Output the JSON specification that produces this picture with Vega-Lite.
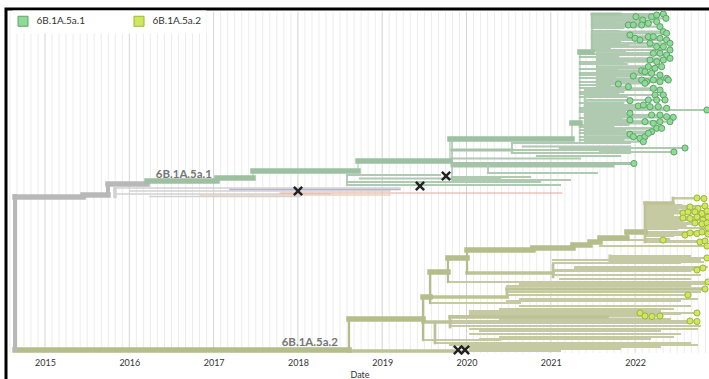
{
  "$schema": "https://vega.github.io/schema/vega-lite/v6.json",
  "width": 707,
  "height": 374,
  "autosize": {"type": "none"},
  "padding": {"left": 6, "top": 9, "right": -4, "bottom": -4},
  "config": {"view": {"stroke": "#000000", "strokeWidth": 3}, "font": "Lato"},
  "resolve": {"axis": {"x": "independent", "y": "independent"}},
  "datasets": {
    "months": [
      {"m":2014.583},{"m":2014.667},{"m":2014.75},{"m":2014.833},{"m":2014.917},
      {"m":2015.083},{"m":2015.167},{"m":2015.25},{"m":2015.333},{"m":2015.417},{"m":2015.5},{"m":2015.583},{"m":2015.667},{"m":2015.75},{"m":2015.833},{"m":2015.917},
      {"m":2016.083},{"m":2016.167},{"m":2016.25},{"m":2016.333},{"m":2016.417},{"m":2016.5},{"m":2016.583},{"m":2016.667},{"m":2016.75},{"m":2016.833},{"m":2016.917},
      {"m":2017.083},{"m":2017.167},{"m":2017.25},{"m":2017.333},{"m":2017.417},{"m":2017.5},{"m":2017.583},{"m":2017.667},{"m":2017.75},{"m":2017.833},{"m":2017.917},
      {"m":2018.083},{"m":2018.167},{"m":2018.25},{"m":2018.333},{"m":2018.417},{"m":2018.5},{"m":2018.583},{"m":2018.667},{"m":2018.75},{"m":2018.833},{"m":2018.917},
      {"m":2019.083},{"m":2019.167},{"m":2019.25},{"m":2019.333},{"m":2019.417},{"m":2019.5},{"m":2019.583},{"m":2019.667},{"m":2019.75},{"m":2019.833},{"m":2019.917},
      {"m":2020.083},{"m":2020.167},{"m":2020.25},{"m":2020.333},{"m":2020.417},{"m":2020.5},{"m":2020.583},{"m":2020.667},{"m":2020.75},{"m":2020.833},{"m":2020.917},
      {"m":2021.083},{"m":2021.167},{"m":2021.25},{"m":2021.333},{"m":2021.417},{"m":2021.5},{"m":2021.583},{"m":2021.667},{"m":2021.75},{"m":2021.833},{"m":2021.917},
      {"m":2022.083},{"m":2022.167},{"m":2022.25},{"m":2022.333},{"m":2022.417},{"m":2022.5},{"m":2022.583},{"m":2022.667},{"m":2022.75},{"m":2022.833}
    ],
    "years": [{"yr":2015},{"yr":2016},{"yr":2017},{"yr":2018},{"yr":2019},{"yr":2020},{"yr":2021},{"yr":2022}],
    "h": [
      {"a":2015.830,"b":2019.211,"y":188,"g":"O3"},
      {"a":2016.008,"b":2019.092,"y":191,"g":"O3"},
      {"a":2015.830,"b":2018.381,"y":194,"g":"O3"},
      {"a":2016.245,"b":2018.025,"y":196.5,"g":"O3"},
      {"a":2017.194,"b":2019.211,"y":189.5,"g":"O2"},
      {"a":2016.838,"b":2019.092,"y":195,"g":"O4"},
      {"a":2017.787,"b":2021.132,"y":193,"g":"O1"},

      {"a":2018.582,"b":2019.685,"y":175,"g":"At"},
      {"a":2018.736,"b":2020.397,"y":178.5,"g":"At"},
      {"a":2018.582,"b":2020.872,"y":182,"g":"At"},
      {"a":2018.582,"b":2021.109,"y":185,"g":"At"},
      {"a":2020.539,"b":2021.939,"y":143,"g":"At"},
      {"a":2020.670,"b":2021.939,"y":146.5,"g":"At"},
      {"a":2020.539,"b":2021.939,"y":150,"g":"At"},
      {"a":2020.539,"b":2021.939,"y":153,"g":"At"},
      {"a":2020.836,"b":2021.820,"y":156,"g":"At"},
      {"a":2019.828,"b":2021.346,"y":158.5,"g":"At"},
      {"a":2020.255,"b":2021.548,"y":173,"g":"At"},
      {"a":2019.828,"b":2020.753,"y":177,"g":"At"},
      {"a":2019.840,"b":2021.227,"y":180,"g":"At"},
      {"a":2021.109,"b":2022.592,"y":148,"g":"At","t":1,"c":"6B.1A.5a.1"},
      {"a":2021.583,"b":2022.461,"y":152,"g":"At","t":1,"c":"6B.1A.5a.1"},
      {"a":2021.346,"b":2022.852,"y":110,"g":"At","t":1,"c":"6B.1A.5a.1"},

      {"a":2021.488,"b":2021.82,"y":16,"g":"At"},
      {"a":2021.488,"b":2021.90,"y":19,"g":"At"},
      {"a":2021.488,"b":2021.78,"y":22,"g":"At"},
      {"a":2021.488,"b":2021.86,"y":28,"g":"At"},
      {"a":2021.488,"b":2021.80,"y":31,"g":"At"},
      {"a":2021.488,"b":2021.74,"y":34,"g":"At"},
      {"a":2021.488,"b":2021.88,"y":37,"g":"At"},
      {"a":2021.488,"b":2021.82,"y":42,"g":"At"},
      {"a":2021.488,"b":2021.92,"y":45,"g":"At"},
      {"a":2021.488,"b":2021.70,"y":48,"g":"At"},
      {"a":2021.488,"b":2021.88,"y":51,"g":"At"},
      {"a":2021.346,"b":2021.94,"y":54,"g":"At"},
      {"a":2021.346,"b":2021.80,"y":57,"g":"At"},
      {"a":2021.346,"b":2021.86,"y":62,"g":"At"},
      {"a":2021.346,"b":2021.90,"y":64,"g":"At"},
      {"a":2021.346,"b":2021.78,"y":69,"g":"At"},
      {"a":2021.346,"b":2021.84,"y":73,"g":"At"},
      {"a":2021.346,"b":2021.92,"y":75,"g":"At"},
      {"a":2021.346,"b":2021.76,"y":78,"g":"At"},
      {"a":2021.346,"b":2021.84,"y":82,"g":"At"},
      {"a":2021.346,"b":2021.70,"y":85,"g":"At"},
      {"a":2021.346,"b":2021.92,"y":88,"g":"At"},
      {"a":2021.346,"b":2021.86,"y":92,"g":"At"},
      {"a":2021.346,"b":2021.80,"y":94,"g":"At"},
      {"a":2021.346,"b":2021.90,"y":97,"g":"At"},
      {"a":2021.346,"b":2021.86,"y":103,"g":"At"},
      {"a":2021.346,"b":2021.80,"y":108,"g":"At"},
      {"a":2021.346,"b":2021.88,"y":112,"g":"At"},
      {"a":2021.346,"b":2021.84,"y":118,"g":"At"},
      {"a":2021.346,"b":2021.92,"y":125,"g":"At"},
      {"a":2021.346,"b":2021.74,"y":127,"g":"At"},
      {"a":2021.346,"b":2021.88,"y":130,"g":"At"},
      {"a":2021.346,"b":2021.80,"y":133,"g":"At"},
      {"a":2021.346,"b":2021.70,"y":137,"g":"At"},
      {"a":2021.346,"b":2021.86,"y":140,"g":"At"},

      {"a":2021.488,"b":2022.010,"y":16.7,"g":"At","t":1,"c":"6B.1A.5a.1"},
      {"a":2021.488,"b":2022.090,"y":20,"g":"At","t":1,"c":"6B.1A.5a.1"},
      {"a":2021.488,"b":2022.196,"y":16.7,"g":"At","t":1,"c":"6B.1A.5a.1"},
      {"a":2021.488,"b":2022.256,"y":15,"g":"At","t":1,"c":"6B.1A.5a.1"},
      {"a":2021.488,"b":2022.335,"y":14,"g":"At","t":1,"c":"6B.1A.5a.1"},
      {"a":2021.488,"b":2022.366,"y":18.3,"g":"At","t":1,"c":"6B.1A.5a.1"},
      {"a":2021.488,"b":2022.157,"y":23.3,"g":"At","t":1,"c":"6B.1A.5a.1"},
      {"a":2021.488,"b":2021.920,"y":25,"g":"At","t":1,"c":"6B.1A.5a.1"},
      {"a":2021.488,"b":2021.979,"y":25,"g":"At","t":1,"c":"6B.1A.5a.1"},
      {"a":2021.488,"b":2022.078,"y":25,"g":"At","t":1,"c":"6B.1A.5a.1"},
      {"a":2021.488,"b":2022.256,"y":21.7,"g":"At","t":1,"c":"6B.1A.5a.1"},
      {"a":2021.488,"b":2022.295,"y":26.7,"g":"At","t":1,"c":"6B.1A.5a.1"},
      {"a":2021.488,"b":2022.335,"y":31.7,"g":"At","t":1,"c":"6B.1A.5a.1"},
      {"a":2021.488,"b":2022.374,"y":33.3,"g":"At","t":1,"c":"6B.1A.5a.1"},
      {"a":2021.488,"b":2021.939,"y":35,"g":"At","t":1,"c":"6B.1A.5a.1"},
      {"a":2021.488,"b":2021.999,"y":38.3,"g":"At","t":1,"c":"6B.1A.5a.1"},
      {"a":2021.488,"b":2022.058,"y":40,"g":"At","t":1,"c":"6B.1A.5a.1"},
      {"a":2021.488,"b":2022.157,"y":36.7,"g":"At","t":1,"c":"6B.1A.5a.1"},
      {"a":2021.488,"b":2022.216,"y":36.7,"g":"At","t":1,"c":"6B.1A.5a.1"},
      {"a":2021.488,"b":2022.295,"y":38.3,"g":"At","t":1,"c":"6B.1A.5a.1"},
      {"a":2021.488,"b":2022.374,"y":40,"g":"At","t":1,"c":"6B.1A.5a.1"},
      {"a":2021.488,"b":2022.414,"y":43.3,"g":"At","t":1,"c":"6B.1A.5a.1"},
      {"a":2021.488,"b":2022.177,"y":43.3,"g":"At","t":1,"c":"6B.1A.5a.1"},
      {"a":2021.488,"b":2022.256,"y":46.7,"g":"At","t":1,"c":"6B.1A.5a.1"},
      {"a":2021.488,"b":2022.335,"y":46.7,"g":"At","t":1,"c":"6B.1A.5a.1"},
      {"a":2021.488,"b":2022.414,"y":50,"g":"At","t":1,"c":"6B.1A.5a.1"},
      {"a":2021.548,"b":2022.216,"y":53.3,"g":"At","t":1,"c":"6B.1A.5a.1"},
      {"a":2021.548,"b":2022.295,"y":53.3,"g":"At","t":1,"c":"6B.1A.5a.1"},
      {"a":2021.548,"b":2022.374,"y":55,"g":"At","t":1,"c":"6B.1A.5a.1"},
      {"a":2021.548,"b":2022.177,"y":60,"g":"At","t":1,"c":"6B.1A.5a.1"},
      {"a":2021.548,"b":2022.256,"y":61.7,"g":"At","t":1,"c":"6B.1A.5a.1"},
      {"a":2021.548,"b":2022.335,"y":60,"g":"At","t":1,"c":"6B.1A.5a.1"},
      {"a":2021.548,"b":2022.414,"y":58.3,"g":"At","t":1,"c":"6B.1A.5a.1"},
      {"a":2021.548,"b":2022.157,"y":66.7,"g":"At","t":1,"c":"6B.1A.5a.1"},
      {"a":2021.548,"b":2022.236,"y":68.3,"g":"At","t":1,"c":"6B.1A.5a.1"},
      {"a":2021.548,"b":2022.315,"y":66.7,"g":"At","t":1,"c":"6B.1A.5a.1"},
      {"a":2021.548,"b":2022.078,"y":70.7,"g":"At","t":1,"c":"6B.1A.5a.1"},
      {"a":2021.548,"b":2022.117,"y":71.7,"g":"At","t":1,"c":"6B.1A.5a.1"},
      {"a":2021.548,"b":2022.196,"y":73.3,"g":"At","t":1,"c":"6B.1A.5a.1"},
      {"a":2021.548,"b":2022.295,"y":75,"g":"At","t":1,"c":"6B.1A.5a.1"},
      {"a":2021.548,"b":2022.374,"y":78.3,"g":"At","t":1,"c":"6B.1A.5a.1"},
      {"a":2021.548,"b":2021.979,"y":76,"g":"At","t":1,"c":"6B.1A.5a.1"},
      {"a":2021.548,"b":2022.078,"y":80,"g":"At","t":1,"c":"6B.1A.5a.1"},
      {"a":2021.548,"b":2022.137,"y":81.7,"g":"At","t":1,"c":"6B.1A.5a.1"},
      {"a":2021.548,"b":2022.216,"y":80,"g":"At","t":1,"c":"6B.1A.5a.1"},
      {"a":2021.548,"b":2022.295,"y":81.7,"g":"At","t":1,"c":"6B.1A.5a.1"},
      {"a":2021.548,"b":2022.394,"y":80,"g":"At","t":1,"c":"6B.1A.5a.1"},
      {"a":2021.548,"b":2021.801,"y":84,"g":"At","t":1,"c":"6B.1A.5a.1"},
      {"a":2021.548,"b":2021.920,"y":86.7,"g":"At","t":1,"c":"6B.1A.5a.1"},
      {"a":2021.548,"b":2022.117,"y":83.3,"g":"At","t":1,"c":"6B.1A.5a.1"},
      {"a":2021.548,"b":2022.216,"y":88.3,"g":"At","t":1,"c":"6B.1A.5a.1"},
      {"a":2021.405,"b":2022.295,"y":90,"g":"At","t":1,"c":"6B.1A.5a.1"},
      {"a":2021.405,"b":2022.236,"y":95,"g":"At","t":1,"c":"6B.1A.5a.1"},
      {"a":2021.405,"b":2022.335,"y":95,"g":"At","t":1,"c":"6B.1A.5a.1"},
      {"a":2021.405,"b":2022.157,"y":100,"g":"At","t":1,"c":"6B.1A.5a.1"},
      {"a":2021.405,"b":2022.256,"y":100,"g":"At","t":1,"c":"6B.1A.5a.1"},
      {"a":2021.405,"b":2022.355,"y":100,"g":"At","t":1,"c":"6B.1A.5a.1"},
      {"a":2021.405,"b":2021.939,"y":100.7,"g":"At","t":1,"c":"6B.1A.5a.1"},
      {"a":2021.405,"b":2022.038,"y":106,"g":"At","t":1,"c":"6B.1A.5a.1"},
      {"a":2021.405,"b":2022.098,"y":105,"g":"At","t":1,"c":"6B.1A.5a.1"},
      {"a":2021.405,"b":2022.177,"y":106.7,"g":"At","t":1,"c":"6B.1A.5a.1"},
      {"a":2021.405,"b":2022.275,"y":106.7,"g":"At","t":1,"c":"6B.1A.5a.1"},
      {"a":2021.405,"b":2022.374,"y":108.3,"g":"At","t":1,"c":"6B.1A.5a.1"},
      {"a":2021.405,"b":2021.939,"y":113.3,"g":"At","t":1,"c":"6B.1A.5a.1"},
      {"a":2021.405,"b":2022.196,"y":115,"g":"At","t":1,"c":"6B.1A.5a.1"},
      {"a":2021.405,"b":2022.295,"y":115,"g":"At","t":1,"c":"6B.1A.5a.1"},
      {"a":2021.405,"b":2022.374,"y":116.7,"g":"At","t":1,"c":"6B.1A.5a.1"},
      {"a":2021.405,"b":2022.453,"y":117.3,"g":"At","t":1,"c":"6B.1A.5a.1"},
      {"a":2021.405,"b":2021.939,"y":120,"g":"At","t":1,"c":"6B.1A.5a.1"},
      {"a":2021.405,"b":2022.117,"y":121.7,"g":"At","t":1,"c":"6B.1A.5a.1"},
      {"a":2021.405,"b":2022.216,"y":123.3,"g":"At","t":1,"c":"6B.1A.5a.1"},
      {"a":2021.405,"b":2022.295,"y":121.7,"g":"At","t":1,"c":"6B.1A.5a.1"},
      {"a":2021.405,"b":2022.414,"y":121.7,"g":"At","t":1,"c":"6B.1A.5a.1"},
      {"a":2021.405,"b":2022.256,"y":128.3,"g":"At","t":1,"c":"6B.1A.5a.1"},
      {"a":2021.405,"b":2022.315,"y":128.3,"g":"At","t":1,"c":"6B.1A.5a.1"},
      {"a":2021.405,"b":2022.196,"y":131.7,"g":"At","t":1,"c":"6B.1A.5a.1"},
      {"a":2021.405,"b":2021.939,"y":134.3,"g":"At","t":1,"c":"6B.1A.5a.1"},
      {"a":2021.405,"b":2021.979,"y":136.7,"g":"At","t":1,"c":"6B.1A.5a.1"},
      {"a":2021.405,"b":2022.058,"y":138.3,"g":"At","t":1,"c":"6B.1A.5a.1"},
      {"a":2021.405,"b":2022.117,"y":136.7,"g":"At","t":1,"c":"6B.1A.5a.1"},
      {"a":2021.405,"b":2022.157,"y":133.3,"g":"At","t":1,"c":"6B.1A.5a.1"},
      {"a":2021.405,"b":2022.098,"y":141.7,"g":"At","t":1,"c":"6B.1A.5a.1"},

      {"a":2019.484,"b":2020.397,"y":340,"g":"Bt"},
      {"a":2019.626,"b":2022.651,"y":343,"g":"Bt"},
      {"a":2019.804,"b":2022.769,"y":326,"g":"Bt"},
      {"a":2019.567,"b":2020.634,"y":303,"g":"Bt"},
      {"a":2019.780,"b":2020.634,"y":282,"g":"Bt"},
      {"a":2021.702,"b":2022.805,"y":262,"g":"Bt"},
      {"a":2019.840,"b":2021.109,"y":351,"g":"Bt"},
      {"a":2021.702,"b":2022.651,"y":256,"g":"Bt"},
      {"a":2021.026,"b":2022.769,"y":260,"g":"Bt"},
      {"a":2021.026,"b":2022.532,"y":263,"g":"Bt"},
      {"a":2021.287,"b":2022.852,"y":267,"g":"Bt"},
      {"a":2021.026,"b":2022.651,"y":271,"g":"Bt"},
      {"a":2021.026,"b":2022.769,"y":275,"g":"Bt"},
      {"a":2021.109,"b":2022.651,"y":279,"g":"Bt"},
      {"a":2020.634,"b":2022.852,"y":284,"g":"Bt"},
      {"a":2020.480,"b":2022.651,"y":286,"g":"Bt"},
      {"a":2020.480,"b":2022.769,"y":292,"g":"Bt"},
      {"a":2020.634,"b":2022.734,"y":299,"g":"Bt"},
      {"a":2020.480,"b":2022.532,"y":301,"g":"Bt"},
      {"a":2020.634,"b":2022.651,"y":306,"g":"Bt"},
      {"a":2020.397,"b":2022.449,"y":309,"g":"Bt"},
      {"a":2020.041,"b":2022.295,"y":311,"g":"Bt"},
      {"a":2020.041,"b":2022.532,"y":314,"g":"Bt"},
      {"a":2020.397,"b":2022.414,"y":319,"g":"Bt"},
      {"a":2019.804,"b":2022.651,"y":323,"g":"Bt"},
      {"a":2020.041,"b":2022.734,"y":329,"g":"Bt"},
      {"a":2020.160,"b":2022.295,"y":331,"g":"Bt"},
      {"a":2020.041,"b":2022.532,"y":334,"g":"Bt"},
      {"a":2020.397,"b":2022.449,"y":337,"g":"Bt"},
      {"a":2020.160,"b":2022.176,"y":339,"g":"Bt"},
      {"a":2019.804,"b":2022.734,"y":345,"g":"Bt"},
      {"a":2019.923,"b":2022.295,"y":347,"g":"Bt"},
      {"a":2020.041,"b":2021.820,"y":349,"g":"Bt"},
      {"a":2022.117,"b":2022.55,"y":205,"g":"Bt"},
      {"a":2022.117,"b":2022.50,"y":210,"g":"Bt"},
      {"a":2022.117,"b":2022.45,"y":215,"g":"Bt"},
      {"a":2022.117,"b":2022.55,"y":221,"g":"Bt"},
      {"a":2022.117,"b":2022.60,"y":226,"g":"Bt"},
      {"a":2022.117,"b":2022.50,"y":229,"g":"Bt"},
      {"a":2022.117,"b":2022.45,"y":236,"g":"Bt"},
      {"a":2022.117,"b":2022.40,"y":239,"g":"Bt"},

      {"a":2022.117,"b":2022.651,"y":207,"g":"Bt","t":1,"c":"6B.1A.5a.2"},
      {"a":2022.117,"b":2022.746,"y":208.5,"g":"Bt","t":1,"c":"6B.1A.5a.2"},
      {"a":2022.117,"b":2022.829,"y":206,"g":"Bt","t":1,"c":"6B.1A.5a.2"},
      {"a":2022.117,"b":2022.568,"y":213,"g":"Bt","t":1,"c":"6B.1A.5a.2"},
      {"a":2022.117,"b":2022.627,"y":212,"g":"Bt","t":1,"c":"6B.1A.5a.2"},
      {"a":2022.117,"b":2022.710,"y":212,"g":"Bt","t":1,"c":"6B.1A.5a.2"},
      {"a":2022.117,"b":2022.793,"y":213.5,"g":"Bt","t":1,"c":"6B.1A.5a.2"},
      {"a":2022.117,"b":2022.853,"y":211,"g":"Bt","t":1,"c":"6B.1A.5a.2"},
      {"a":2022.117,"b":2022.568,"y":218,"g":"Bt","t":1,"c":"6B.1A.5a.2"},
      {"a":2022.117,"b":2022.651,"y":218.5,"g":"Bt","t":1,"c":"6B.1A.5a.2"},
      {"a":2022.117,"b":2022.734,"y":217,"g":"Bt","t":1,"c":"6B.1A.5a.2"},
      {"a":2022.117,"b":2022.805,"y":220,"g":"Bt","t":1,"c":"6B.1A.5a.2"},
      {"a":2022.117,"b":2022.864,"y":217,"g":"Bt","t":1,"c":"6B.1A.5a.2"},
      {"a":2022.117,"b":2022.710,"y":223,"g":"Bt","t":1,"c":"6B.1A.5a.2"},
      {"a":2022.117,"b":2022.793,"y":224,"g":"Bt","t":1,"c":"6B.1A.5a.2"},
      {"a":2022.117,"b":2022.853,"y":223,"g":"Bt","t":1,"c":"6B.1A.5a.2"},
      {"a":2022.117,"b":2022.864,"y":228,"g":"Bt","t":1,"c":"6B.1A.5a.2"},
      {"a":2022.117,"b":2022.592,"y":235,"g":"Bt","t":1,"c":"6B.1A.5a.2"},
      {"a":2022.117,"b":2022.651,"y":233,"g":"Bt","t":1,"c":"6B.1A.5a.2"},
      {"a":2022.117,"b":2022.734,"y":233.5,"g":"Bt","t":1,"c":"6B.1A.5a.2"},
      {"a":2022.117,"b":2022.793,"y":232,"g":"Bt","t":1,"c":"6B.1A.5a.2"},
      {"a":2022.117,"b":2022.864,"y":234,"g":"Bt","t":1,"c":"6B.1A.5a.2"},
      {"a":2022.117,"b":2022.769,"y":242,"g":"Bt","t":1,"c":"6B.1A.5a.2"},
      {"a":2022.117,"b":2022.829,"y":241,"g":"Bt","t":1,"c":"6B.1A.5a.2"},
      {"a":2021.583,"b":2022.331,"y":240,"g":"Bt","t":1,"c":"6B.1A.5a.2"},
      {"a":2021.583,"b":2022.853,"y":246,"g":"Bt","t":1,"c":"6B.1A.5a.2"},
      {"a":2022.449,"b":2022.734,"y":198,"g":"Bt","t":1,"c":"6B.1A.5a.2"},
      {"a":2022.449,"b":2022.817,"y":198.5,"g":"Bt","t":1,"c":"6B.1A.5a.2"},
      {"a":2021.702,"b":2022.852,"y":258,"g":"Bt","t":1,"c":"6B.1A.5a.2"},
      {"a":2021.026,"b":2022.734,"y":270,"g":"Bt","t":1,"c":"6B.1A.5a.2"},
      {"a":2021.287,"b":2022.805,"y":268,"g":"Bt","t":1,"c":"6B.1A.5a.2"},
      {"a":2020.634,"b":2022.864,"y":282,"g":"Bt","t":1,"c":"6B.1A.5a.2"},
      {"a":2020.480,"b":2022.627,"y":295,"g":"Bt","t":1,"c":"6B.1A.5a.2"},
      {"a":2020.041,"b":2022.058,"y":313,"g":"Bt","t":1,"c":"6B.1A.5a.2"},
      {"a":2019.804,"b":2022.117,"y":316,"g":"Bt","t":1,"c":"6B.1A.5a.2"},
      {"a":2020.600,"b":2022.200,"y":316.5,"g":"Bt","t":1,"c":"6B.1A.5a.2"},
      {"a":2021.000,"b":2022.295,"y":316,"g":"Bt","t":1,"c":"6B.1A.5a.2"},
      {"a":2020.041,"b":2022.734,"y":313,"g":"Bt","t":1,"c":"6B.1A.5a.2"},
      {"a":2019.804,"b":2022.651,"y":321,"g":"Bt","t":1,"c":"6B.1A.5a.2"},
      {"a":2020.397,"b":2022.734,"y":321.5,"g":"Bt","t":1,"c":"6B.1A.5a.2"},

      {"a":2019.828,"b":2020.539,"y":150,"g":"Am"},
      {"a":2019.828,"b":2021.986,"y":163.5,"g":"Am","t":1,"c":"6B.1A.5a.1"},
      {"a":2019.828,"b":2021.737,"y":166,"g":"Am"},
      {"a":2021.488,"b":2021.820,"y":14,"g":"Am"},
      {"a":2018.606,"b":2019.840,"y":351,"g":"Bm"},
      {"a":2019.484,"b":2019.804,"y":322,"g":"Bm"},
      {"a":2019.804,"b":2021.666,"y":317,"g":"Bm"},
      {"a":2019.567,"b":2020.480,"y":297,"g":"Bm"},
      {"a":2020.480,"b":2022.829,"y":289,"g":"Bm","t":1,"c":"6B.1A.5a.2"},
      {"a":2020.006,"b":2021.026,"y":273,"g":"Bm"},
      {"a":2022.117,"b":2022.449,"y":203,"g":"Bm"},

      {"a":2014.644,"b":2015.451,"y":197,"g":"R"},
      {"a":2015.451,"b":2015.747,"y":195,"g":"R"},
      {"a":2015.747,"b":2016.210,"y":184,"g":"R"},
      {"a":2016.210,"b":2017.040,"y":181,"g":"A"},
      {"a":2017.040,"b":2017.467,"y":178,"g":"A"},
      {"a":2017.467,"b":2018.713,"y":171,"g":"A"},
      {"a":2018.713,"b":2019.804,"y":161,"g":"A"},
      {"a":2019.804,"b":2021.251,"y":139,"g":"A"},
      {"a":2021.251,"b":2021.346,"y":123,"g":"A"},
      {"a":2021.346,"b":2021.488,"y":52,"g":"A"},
      {"a":2014.644,"b":2018.606,"y":350,"g":"B"},
      {"a":2018.606,"b":2019.484,"y":319,"g":"B"},
      {"a":2019.484,"b":2019.567,"y":297,"g":"B"},
      {"a":2019.567,"b":2019.780,"y":272,"g":"B"},
      {"a":2019.780,"b":2020.006,"y":258,"g":"B"},
      {"a":2020.006,"b":2020.788,"y":250,"g":"B"},
      {"a":2020.788,"b":2021.263,"y":248,"g":"B"},
      {"a":2021.263,"b":2021.465,"y":245,"g":"B"},
      {"a":2021.465,"b":2021.583,"y":242,"g":"B"},
      {"a":2021.583,"b":2021.903,"y":238,"g":"B"},
      {"a":2021.903,"b":2022.117,"y":232,"g":"B"}
    ],
    "v": [
      {"x":2015.830,"y":188,"y2":196.5,"g":"O3"},
      {"x":2018.582,"y":175,"y2":185,"g":"At"},
      {"x":2020.539,"y":143,"y2":153,"g":"At"},
      {"x":2020.255,"y":166,"y2":173,"g":"At"},
      {"x":2021.548,"y":53,"y2":87,"g":"At"},
      {"x":2021.405,"y":90,"y2":138,"g":"At"},
      {"x":2021.702,"y":256,"y2":262,"g":"Bt"},
      {"x":2019.828,"y":139,"y2":180,"g":"Am"},
      {"x":2021.488,"y":14,"y2":52,"g":"Am"},
      {"x":2019.626,"y":322,"y2":343,"g":"Bm"},
      {"x":2019.804,"y":317,"y2":327,"g":"Bm"},
      {"x":2020.480,"y":289,"y2":297,"g":"Bm"},
      {"x":2021.026,"y":265,"y2":277,"g":"Bm"},
      {"x":2022.117,"y":203,"y2":242,"g":"Bm"},
      {"x":2022.449,"y":198,"y2":203,"g":"Bm"},
      {"x":2014.644,"y":196,"y2":350,"g":"R"},
      {"x":2015.451,"y":195,"y2":197,"g":"R"},
      {"x":2015.747,"y":184,"y2":195,"g":"R"},
      {"x":2016.210,"y":181,"y2":184,"g":"A"},
      {"x":2017.040,"y":178,"y2":181,"g":"A"},
      {"x":2017.467,"y":171,"y2":178,"g":"A"},
      {"x":2018.713,"y":161,"y2":171,"g":"A"},
      {"x":2019.804,"y":139,"y2":161,"g":"A"},
      {"x":2021.251,"y":123,"y2":139,"g":"A"},
      {"x":2021.346,"y":52,"y2":142,"g":"A"},
      {"x":2018.606,"y":319,"y2":351,"g":"B"},
      {"x":2019.484,"y":297,"y2":340,"g":"B"},
      {"x":2019.567,"y":272,"y2":303,"g":"B"},
      {"x":2019.780,"y":258,"y2":282,"g":"B"},
      {"x":2020.006,"y":250,"y2":273,"g":"B"},
      {"x":2020.788,"y":248,"y2":250,"g":"B"},
      {"x":2021.263,"y":245,"y2":248,"g":"B"},
      {"x":2021.465,"y":242,"y2":245,"g":"B"},
      {"x":2021.583,"y":238,"y2":242,"g":"B"},
      {"x":2021.903,"y":232,"y2":238,"g":"B"}
    ],
    "labels": [
      {"x":2016.981,"y":175,"s":"6B.1A.5a.1"},
      {"x":2018.475,"y":342.5,"s":"6B.1A.5a.2"}
    ],
    "muts": [
      {"x":2018.001,"y":191},
      {"x":2019.448,"y":186},
      {"x":2019.757,"y":176},
      {"x":2019.899,"y":350},
      {"x":2019.982,"y":350}
    ]
  },
  "layer": [
    {
      "data": {"name": "months"},
      "mark": {"type": "rule", "color": "#ececec", "strokeWidth": 1},
      "encoding": {
        "x": {"field": "m", "type": "quantitative",
              "scale": {"domain": [2014.537, 2022.924], "nice": false, "zero": false},
              "axis": {"orient": "bottom", "offset": -27, "values": [2015,2016,2017,2018,2019,2020,2021,2022], "format": "d", "grid": false, "domain": false, "ticks": false, "tickSize": 0, "labelPadding": 2, "labelFontSize": 9, "labelColor": "#333333", "labelFont": "Lato", "labelFlush": false, "title": "Date", "titleFont": "Lato", "titleFontSize": 9, "titleFontWeight": "normal", "titleColor": "#333333", "titlePadding": 3}},
        "y": {"datum": 12, "type": "quantitative",
              "scale": {"domain": [9, 383], "reverse": true, "nice": false, "zero": false},
              "axis": null},
        "y2": {"datum": 353}
      }
    },
    {
      "data": {"name": "years"},
      "mark": {"type": "rule", "color": "#d4d4d4", "strokeWidth": 1},
      "encoding": {
        "x": {"field": "yr", "type": "quantitative", "axis": null},
        "y": {"datum": 12, "type": "quantitative", "axis": null},
        "y2": {"datum": 353}
      }
    },
    {
      "data": {"name": "h"},
      "mark": {"type": "rule", "strokeCap": "square"},
      "encoding": {
        "x": {"field": "a", "type": "quantitative", "axis": null},
        "x2": {"field": "b"},
        "y": {"field": "y", "type": "quantitative", "axis": null},
        "color": {"field": "g", "type": "nominal", "legend": null,
                  "scale": {"domain": ["R","A","Am","At","B","Bm","Bt","O1","O2","O3","O4"],
                            "range": ["#b8b8b8","#9dc0a0","#a3c4a6","#afcab0","#b5bd8b","#bcc396","#c5caa3","#e4a89c","#bbb2d2","#d2d2d2","#e8d2ba"]}},
        "strokeWidth": {"field": "g", "type": "nominal", "legend": null,
                  "scale": {"type": "ordinal", "domain": ["R","A","Am","At","B","Bm","Bt","O1","O2","O3","O4"],
                            "range": [5.5,5.5,3,2.2,5.5,3.5,2,1,1.5,1.5,1.5]}}
      }
    },
    {
      "data": {"name": "v"},
      "mark": {"type": "rule", "strokeCap": "square"},
      "encoding": {
        "x": {"field": "x", "type": "quantitative", "axis": null},
        "y": {"field": "y", "type": "quantitative", "axis": null},
        "y2": {"field": "y2"},
        "color": {"field": "g", "type": "nominal", "legend": null},
        "strokeWidth": {"field": "g", "type": "nominal", "legend": null}
      }
    },
    {
      "data": {"name": "h"},
      "transform": [{"filter": "datum.t == 1"}],
      "mark": {"type": "circle", "size": 38, "strokeWidth": 1, "opacity": 1},
      "encoding": {
        "x": {"field": "b", "type": "quantitative", "axis": null},
        "y": {"field": "y", "type": "quantitative", "axis": null},
        "fill": {"field": "c", "type": "nominal",
                 "scale": {"domain": ["6B.1A.5a.1","6B.1A.5a.2"], "range": ["#90da98","#cfe75f"]},
                 "legend": {"title": null, "orient": "none", "legendX": 6.5, "legendY": 1.5, "direction": "horizontal", "symbolType": "square", "symbolSize": 100, "symbolStrokeWidth": 1, "symbolOpacity": 1, "labelFontSize": 10, "labelFont": "Lato", "labelColor": "#333333", "labelOffset": 8, "columnPadding": 46, "padding": 5, "fillColor": "#ffffff"}},
        "stroke": {"field": "c", "type": "nominal",
                 "scale": {"domain": ["6B.1A.5a.1","6B.1A.5a.2"], "range": ["#5fa36a","#9db53c"]},
                 "legend": {"title": null, "orient": "none", "legendX": 6.5, "legendY": 1.5, "direction": "horizontal", "symbolType": "square", "symbolSize": 100, "symbolStrokeWidth": 1, "symbolOpacity": 1, "labelFontSize": 10, "labelFont": "Lato", "labelColor": "#333333", "labelOffset": 8, "columnPadding": 46, "padding": 5, "fillColor": "#ffffff"}}
      }
    },
    {
      "data": {"name": "labels"},
      "mark": {"type": "text", "align": "right", "baseline": "middle", "font": "Lato", "fontSize": 11.5, "fontWeight": "bold", "color": "#767676"},
      "encoding": {
        "x": {"field": "x", "type": "quantitative", "axis": null},
        "y": {"field": "y", "type": "quantitative", "axis": null},
        "text": {"field": "s"}
      }
    },
    {
      "data": {"name": "muts"},
      "mark": {"type": "point", "shape": "M-1,-0.65L-0.65,-1L0,-0.35L0.65,-1L1,-0.65L0.35,0L1,0.65L0.65,1L0,0.35L-0.65,1L-1,0.65L-0.35,0Z", "filled": true, "size": 100, "color": "#222222", "opacity": 1},
      "encoding": {
        "x": {"field": "x", "type": "quantitative", "axis": null},
        "y": {"field": "y", "type": "quantitative", "axis": null}
      }
    }
  ]
}
